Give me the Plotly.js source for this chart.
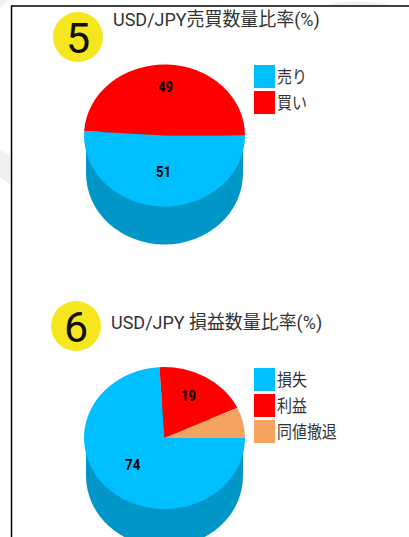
<!DOCTYPE html>
<html><head><meta charset="utf-8">
<script src="https://cdn.plot.ly/plotly-3.0.1.min.js"></script>
<style>html,body{margin:0;padding:0;background:#fff;overflow:hidden}#chart{width:409px;height:537px}</style>
</head><body><div id="chart"></div>
<script>
const FONT = "Roboto, 'Noto Sans CJK JP', sans-serif";
const title5 = 'USD/JPY売買数量比率(%)';
const title6 = 'USD/JPY 損益数量比率(%)';
const labels5 = ['売り', '買い'];
const values5 = [51, 49];
const colors5 = ['#00bfff', '#ff0000'];
const labels6 = ['損失', '利益', '同値撤退'];
const values6 = [74, 19, 7];
const colors6 = ['#00bfff', '#ff0000', '#f4a460'];
const shown6 = [true, true, false];
const W = 409, H = 537;
const CX = 164.5, RX = 80.5, RY = 71;
const CY5 = 135.5, CY6 = 438;
const DEPTH = 38, SIDE = '#0097c8';

function dom(cy){return {x:[(CX-RX)/W,(CX+RX)/W], y:[1-(cy+RX)/H,1-(cy-RX)/H]};}
function pie(labels,values,colors,cy){
  return {type:'pie',labels,values,sort:false,direction:'clockwise',rotation:90,
    marker:{colors,line:{width:0}},textinfo:'none',hoverinfo:'label+value',domain:dom(cy),showlegend:false};
}
const ann=[], shapes=[], squeeze=[];
function text(x,y,t,size,k,opts){
  squeeze.push(k);
  ann.push(Object.assign({xref:'x',yref:'y',x,y,text:t,showarrow:false,xanchor:'left',yanchor:'middle',
    font:{family:FONT,size,color:'#333'}},opts||{}));
}
function sliceLabels(values,cy,shown){
  const tot=values.reduce((a,b)=>a+b,0); let c=0;
  values.forEach((v,i)=>{
    const a=(c+v/2)/tot*2*Math.PI; c+=v;
    if(shown && !shown[i]) return;
    const fy=Math.sin(a)>0?0.52:0.68;
    text(CX+0.58*RX*Math.cos(a),cy+fy*RY*Math.sin(a),String(v),15,0.88,{xanchor:'center',font:{family:FONT,size:15,color:'#000',weight:700}});
  });
}
function side(cy){
  const x0=CX-RX+2,x1=CX+RX-2;
  shapes.push({type:'rect',xref:'x',yref:'y',x0,x1,y0:cy,y1:cy+DEPTH,fillcolor:SIDE,line:{width:0},layer:'below'});
  shapes.push({type:'circle',xref:'x',yref:'y',x0,x1,y0:cy+DEPTH-RY,y1:cy+DEPTH+RY,fillcolor:SIDE,line:{width:0},layer:'below'});
}
function legend(labels,colors,y0){
  labels.forEach((l,i)=>{
    const y=y0+i*26;
    shapes.push({type:'rect',xref:'x',yref:'y',x0:254,x1:275,y0:y,y1:y+23,fillcolor:colors[i],line:{width:0}});
    text(275,y+11.5,l,17,0.88);
  });
}
function badge(cx,cy,n){
  shapes.push({type:'circle',xref:'x',yref:'y',x0:cx-25,x1:cx+25,y0:cy-25,y1:cy+25,fillcolor:'#f5e61e',line:{width:0}});
  text(cx,cy+1,n,43,1,{xanchor:'center',font:{family:FONT,size:43,color:'#111'}});
}
// faint background watermark pieces outside the frame
['M0,150 L10,156 L10,184 L0,177 Z','M0,8 L8,0 L0,0 Z','M325,5 Q355,-2 392,5 Z'].forEach(path=>{
  shapes.push({type:'path',xref:'x',yref:'y',path,fillcolor:'#f0f0f0',line:{width:0},layer:'below'});
});
side(CY5); side(CY6);
legend(labels5,colors5,65); legend(labels6,colors6,368);
badge(78,37,'5'); badge(76,326,'6');
text(111,19,title5,19,0.945); text(109,322,title6,19,0.945);
sliceLabels(values5,CY5); sliceLabels(values6,CY6,shown6);
// frame
shapes.push({type:'line',xref:'x',yref:'y',x0:11.5,x1:11.5,y0:6,y1:H,line:{color:'#000',width:1.5}});
shapes.push({type:'line',xref:'x',yref:'y',x0:11,x1:W,y0:6,y1:6,line:{color:'#000',width:1.5}});

Plotly.newPlot('chart',[pie(labels5,values5,colors5,CY5),pie(labels6,values6,colors6,CY6)],{
  width:W,height:H,margin:{l:0,r:0,t:0,b:0},paper_bgcolor:'#fff',plot_bgcolor:'rgba(0,0,0,0)',
  xaxis:{range:[0,W],visible:false,fixedrange:true},
  yaxis:{range:[H,0],visible:false,fixedrange:true},
  shapes,annotations:ann,showlegend:false
},{displayModeBar:false,staticPlot:true}).then(gd=>{
  // flatten the circular pies into the tilted ellipse of the top face
  const cys=[CY5,CY6], s=RY/RX;
  gd.querySelectorAll('.pielayer .trace').forEach((g,i)=>{
    g.setAttribute('transform','translate(0,'+cys[i]+') scale(1,'+s+') translate(0,'+(-cys[i])+')');
  });
  // the source lettering is horizontally condensed
  const svgLeft=gd.getBoundingClientRect().left;
  gd.querySelectorAll('.annotation').forEach((g,i)=>{
    const t=g.querySelector('.annotation-text-g'); if(!t) return;
    const r=t.querySelector('text').getBoundingClientRect();
    const px=(ann[i].xanchor==='center'?r.left+r.width/2:r.left)-svgLeft;
    const old=t.getAttribute('transform')||'';
    t.setAttribute('transform','translate('+px+',0) scale('+squeeze[i]+',1) translate('+(-px)+',0) '+old);
  });
});
</script></body></html>
